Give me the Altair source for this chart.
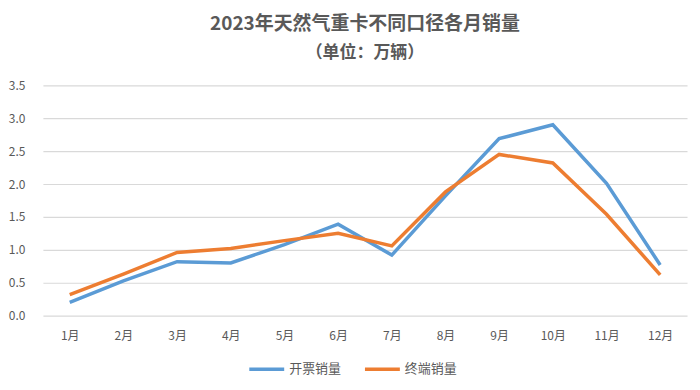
import altair as alt
import pandas as pd

months = ["1月", "2月", "3月", "4月", "5月", "6月", "7月", "8月", "9月", "10月", "11月", "12月"]
invoice = [0.20, 0.53, 0.82, 0.80, 1.08, 1.39, 0.92, 1.82, 2.69, 2.90, 2.01, 0.77]
terminal = [0.32, 0.63, 0.96, 1.02, 1.14, 1.25, 1.06, 1.88, 2.45, 2.32, 1.54, 0.62]
series_names = ["开票销量", "终端销量"]
colors = ["#5B9BD5", "#ED7D31"]
y_ticks = [0, 0.5, 1.0, 1.5, 2.0, 2.5, 3.0, 3.5]

rows = []
for m, a, b in zip(months, invoice, terminal):
    rows.append({"month": m, "series": series_names[0], "value": a})
    rows.append({"month": m, "series": series_names[1], "value": b})
df = pd.DataFrame(rows)

FONT = "Noto Sans CJK SC"

chart = alt.Chart(df).mark_line(strokeWidth=3.5, strokeJoin="miter").encode(
    x=alt.X("month:N", sort=months, title=None,
            scale=alt.Scale(paddingInner=0, paddingOuter=0),
            axis=alt.Axis(labelAngle=0, ticks=False, domain=False, grid=False,
                          labelColor="#595959", labelFontSize=12, labelFont=FONT,
                          labelPadding=15)),
    y=alt.Y("value:Q", title=None,
            scale=alt.Scale(domain=[0, 3.5], nice=False),
            axis=alt.Axis(values=y_ticks, format=".1f", ticks=False, domain=False,
                          gridColor="#d9d9d9", gridWidth=1.2, labelColor="#595959",
                          labelFontSize=12, labelFont=FONT, labelPadding=18)),
    color=alt.Color("series:N", sort=series_names,
                    scale=alt.Scale(domain=series_names, range=colors),
                    legend=alt.Legend(title=None, orient="none", direction="horizontal",
                                      legendX=205, legendY=265,
                                      symbolType="stroke", symbolSize=1225,
                                      symbolStrokeWidth=3.5, labelFontSize=13,
                                      labelFont=FONT, labelColor="#595959",
                                      labelOffset=3, columnPadding=16)),
).properties(
    width=646,
    height=231,
    title=alt.Title(
        text="2023年天然气重卡不同口径各月销量",
        subtitle="（单位：万辆）",
        anchor="middle",
        font=FONT, fontSize=19, fontWeight="bold", color="#595959",
        subtitleFont=FONT, subtitleFontSize=17, subtitleFontWeight="bold",
        subtitleColor="#595959", subtitlePadding=11, offset=18,
    ),
    autosize=alt.AutoSizeParams(type="none"),
    padding={"left": 35, "top": 77, "right": 5, "bottom": 62},
).configure(background="white").configure_view(stroke=None)

chart.save("out.html", embed_options={"renderer": "svg", "actions": False})
